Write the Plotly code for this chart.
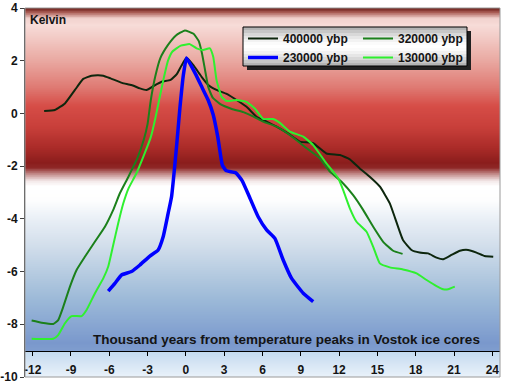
import plotly.graph_objects as go
import numpy as np

# ---------------- data ----------------
x_400k = [-11.1, -10.26, -9.47, -8.69, -8.04, -7.39, -6.87, -6.47, -5.9, -5.0, -4.26, -3.6, -3.08, -2.5, -1.9,
          -1.2, -0.73, -0.34, 0.05, 0.57, 1.23, 1.75, 2.4, 3.19, 3.97, 4.75, 5.54, 6.32, 7.1, 8.0, 8.93, 9.97,
          11.0, 12.06, 12.84, 13.6, 14.4, 15.2, 15.97, 16.37, 17.0, 17.67, 18.3, 18.97, 19.63, 20.15, 20.8,
          21.46, 22.1, 22.76, 23.4, 24.07]
y_400k = [0.09, 0.13, 0.38, 0.89, 1.31, 1.43, 1.45, 1.43, 1.33, 1.16, 1.08, 0.95, 0.89, 1.05, 1.2,
          1.27, 1.48, 1.82, 2.11, 1.84, 1.39, 1.08, 0.89, 0.74, 0.51, 0.25, -0.13, -0.31, -0.5, -0.76, -1.07, -1.13,
          -1.52, -1.58, -1.74, -2.08, -2.4, -2.78, -3.41, -3.95, -4.8, -5.18, -5.28, -5.31, -5.47, -5.53, -5.37,
          -5.21, -5.18, -5.28, -5.41, -5.44]

x_320k = [-12.08, -11.3, -10.39, -10.0, -9.6, -9.08, -8.56, -7.91, -7.13, -6.34, -5.69, -5.17, -4.5, -3.8,
          -3.3, -3.0, -2.75, -2.4, -2.0, -1.4, -0.8, -0.08, 0.6, 1.0, 1.25, 1.5, 1.75, 2.1, 2.7, 3.6, 4.5, 5.3,
          6.05, 7.1, 8.14, 9.45, 10.49, 11.28, 12.19, 13.1, 13.88, 14.67, 15.45, 16.23, 16.97]
y_320k = [-7.86, -7.94, -7.99, -7.84, -7.33, -6.57, -5.94, -5.44, -4.87, -4.3, -3.66, -3.03, -2.4, -1.7,
          -1.0, -0.4, 0.5, 1.4, 2.1, 2.6, 2.95, 3.15, 3.02, 2.75, 2.3, 1.65, 1.0, 0.6, 0.35, 0.17, 0.05, -0.12,
          -0.31, -0.5, -0.82, -1.32, -1.7, -2.21, -2.59, -3.1, -3.66, -4.3, -4.87, -5.21, -5.33]

x_230k = [-6.08, -5.56, -5.04, -4.26, -3.6, -2.82, -2.17, -1.78, -1.39, -1.12, -0.73, -0.47, -0.2, 0.05,
          0.75, 1.3, 1.75, 2.14, 2.5, 2.85, 3.15, 3.9, 4.4, 5.05, 5.66, 6.32, 6.97, 7.62, 8.28, 9.19, 9.97]
y_230k = [-6.74, -6.45, -6.13, -6.0, -5.75, -5.41, -5.18, -4.68, -3.79, -3.15, -1.25, 0.2, 1.45, 2.1,
          1.5, 0.95, 0.5, -0.05, -0.9, -1.95, -2.17, -2.25, -2.55, -3.25, -3.92, -4.42, -4.74, -5.56, -6.26, -6.82, -7.14]

x_130k = [-12.08, -10.39, -10.0, -9.47, -8.95, -8.17, -7.78, -7.13, -6.47, -6.08, -5.69, -5.3, -4.9, -4.5,
          -3.9, -3.3, -2.75, -2.4, -2.1, -1.75, -1.4, -1.05, -0.4, 0.3, 0.84, 1.35, 1.88, 2.14, 2.4, 2.8, 3.2,
          3.97, 4.75, 5.4, 6.05, 6.84, 7.36, 8.14, 9.19, 9.97, 11.0, 11.93, 12.32, 12.84, 13.36, 14.15, 14.67,
          15.19, 15.97, 17.0, 18.07, 18.85, 19.63, 20.15, 20.54, 21.06]
y_130k = [-8.55, -8.55, -8.41, -7.96, -7.69, -7.69, -7.46, -6.83, -6.26, -5.81, -4.99, -4.17, -3.41, -2.85,
          -2.3, -1.6, -0.9, -0.2, 0.5, 1.3, 2.0, 2.35, 2.57, 2.63, 2.47, 2.41, 2.47, 2.15, 1.27, 0.63, 0.47,
          0.51, 0.44, 0.19, -0.21, -0.21, -0.36, -0.69, -0.88, -1.2, -1.89, -2.46, -2.91, -3.6, -4.11, -4.49, -5.06,
          -5.69, -5.84, -5.92, -6.07, -6.32, -6.55, -6.67, -6.67, -6.57]

series_names = ["400000 ybp", "320000 ybp", "230000 ybp", "130000 ybp"]
x_ticks = [-12, -9, -6, -3, 0, 3, 6, 9, 12, 15, 18, 21, 24]
y_ticks = [-10, -8, -6, -4, -2, 0, 2, 4]
y_label = "Kelvin"
x_label = "Thousand years from temperature peaks in Vostok ice cores"

# ---------------- layout geometry ----------------
W, H = 510, 392
L, R, T, B = 25, 10, 8, 15
PW, PH = W - L - R, H - T - B
X_RANGE = [-12.6, 24.6]
Y_RANGE = [-10, 4]


def pxx(px):
    return (px - L) / PW


def pxy(py):
    return (H - B - py) / PH


FONT = dict(family="Liberation Sans, Arial, sans-serif", size=12, color="#141414", weight="bold")
TITLE_FONT = dict(FONT, size=13.5)

fig = go.Figure()

# background gradient (y value -> colour)
grad_stops = [
    (4.0, "#6a1c17"), (3.85, "#a95c54"), (3.62, "#f2d2ce"), (3.35, "#f7dcd8"), (2.0, "#e9a8a1"),
    (1.0, "#df7a73"), (0.3, "#d64d47"), (-0.5, "#c83f3a"), (-1.3, "#aa2b28"), (-1.85, "#8b1d1c"),
    (-2.05, "#8e2726"), (-2.3, "#c48e8d"), (-2.55, "#f3e8e8"), (-2.75, "#ffffff"), (-3.3, "#fdfdfe"),
    (-4.0, "#e9eff6"), (-5.0, "#d2deeb"), (-6.0, "#b7cce1"), (-7.0, "#9dbad8"), (-8.0, "#88a6d2"),
    (-8.7, "#7a98cc"), (-8.98, "#7f9dce"), (-9.02, "#c4daef"), (-10.0, "#eaf2fa"),
]
grad_stops = sorted(grad_stops)
cscale = [[(v - Y_RANGE[0]) / (Y_RANGE[1] - Y_RANGE[0]), c] for v, c in grad_stops]
gy = np.round(np.arange(-10.0, 4.0001, 0.025), 4)
fig.add_trace(go.Heatmap(
    x=[-20, 30], y=gy, z=[[v, v] for v in gy], zmin=-10, zmax=4, colorscale=cscale,
    showscale=False, hoverinfo="skip", zsmooth="best", showlegend=False,
))

styles = [
    dict(color="#0d260d", width=2),
    dict(color="#1b801b", width=2),
    dict(color="#0000ff", width=3.5),
    dict(color="#2ff02f", width=2),
]
xs = [x_400k, x_320k, x_230k, x_130k]
ys = [y_400k, y_320k, y_230k, y_130k]
legend_ids = ["legend", "legend2", "legend3", "legend4"]
for name, xv, yv, st, lg in zip(series_names, xs, ys, styles, legend_ids):
    fig.add_trace(go.Scatter(x=xv, y=yv, mode="lines", name=name, line=st, legend=lg,
                             line_shape="spline", line_smoothing=0.4))

shapes = []
# legend box: shadow + gradient fill + border
bx0, bx1, by0, by1 = 243, 467, 27, 66
shapes.append(dict(type="rect", xref="paper", yref="paper", x0=pxx(bx0 + 4), x1=pxx(bx1 + 4),
                   y0=pxy(by0 + 4), y1=pxy(by1 + 4), fillcolor="#202020", line=dict(width=0), layer="above"))
nb = 13
for i in range(nb):
    t = (i + 0.5) / nb
    d = abs(t - 0.5) * 2
    g = int(round(255 - 85 * d ** 1.6))
    shapes.append(dict(type="rect", xref="paper", yref="paper", x0=pxx(bx0), x1=pxx(bx1),
                       y0=pxy(by0 + (by1 - by0) * i / nb), y1=pxy(by0 + (by1 - by0) * (i + 1) / nb),
                       fillcolor=f"rgb({g},{g},{g})", line=dict(width=0), layer="above"))
shapes.append(dict(type="rect", xref="paper", yref="paper", x0=pxx(bx0), x1=pxx(bx1),
                   y0=pxy(by0), y1=pxy(by1), fillcolor="rgba(0,0,0,0)", line=dict(color="#000000", width=1),
                   layer="above"))
# plot area border
shapes.append(dict(type="rect", xref="paper", yref="paper", x0=0, x1=1, y0=0, y1=1,
                   fillcolor="rgba(0,0,0,0)", line=dict(color="#9a9a9a", width=1), layer="above"))

leg_common = dict(xanchor="left", yanchor="top", bgcolor="rgba(0,0,0,0)", borderwidth=0,
                  font=FONT, tracegroupgap=0, itemwidth=30, orientation="v")
# legend item positions (left px, top px)
leg_pos = {"legend": (243, 24), "legend2": (358, 24), "legend3": (243, 43), "legend4": (358, 43)}
legend_layout = {k: dict(x=pxx(px), y=pxy(py), **leg_common) for k, (px, py) in leg_pos.items()}

fig.update_layout(
    width=W, height=H,
    margin=dict(l=L, r=R, t=T, b=B, pad=0, autoexpand=False),
    paper_bgcolor="white", plot_bgcolor="white",
    font=FONT,
    showlegend=True,
    shapes=shapes,
    xaxis=dict(range=X_RANGE, anchor="free", position=(-9 - Y_RANGE[0]) / (Y_RANGE[1] - Y_RANGE[0]),
               showline=True, linecolor="#000000", linewidth=1, ticks="outside", ticklen=4,
               tickcolor="#000000", tickvals=x_ticks, ticktext=[str(v) for v in x_ticks],
               showgrid=False, zeroline=False, tickfont=FONT, ticklabelstandoff=4, automargin=False),
    yaxis=dict(range=Y_RANGE, showline=True, linecolor="#404040", linewidth=1, ticks="outside",
               ticklen=4, tickcolor="#404040", tickvals=y_ticks, ticktext=[str(v) for v in y_ticks],
               showgrid=False, zeroline=False, tickfont=FONT, automargin=False),
    annotations=[
        dict(text=y_label, xref="paper", yref="paper", x=pxx(28), y=pxy(20), xanchor="left",
             yanchor="middle", showarrow=False, font=FONT),
        dict(text=x_label, xref="paper", yref="paper", x=pxx(286), y=pxy(339), xanchor="center",
             yanchor="middle", showarrow=False, font=TITLE_FONT),
    ],
    **legend_layout,
)

fig.write_html("out.html", config={"displayModeBar": False},
               post_script="document.body.style.margin='0';document.body.style.overflow='hidden';")
